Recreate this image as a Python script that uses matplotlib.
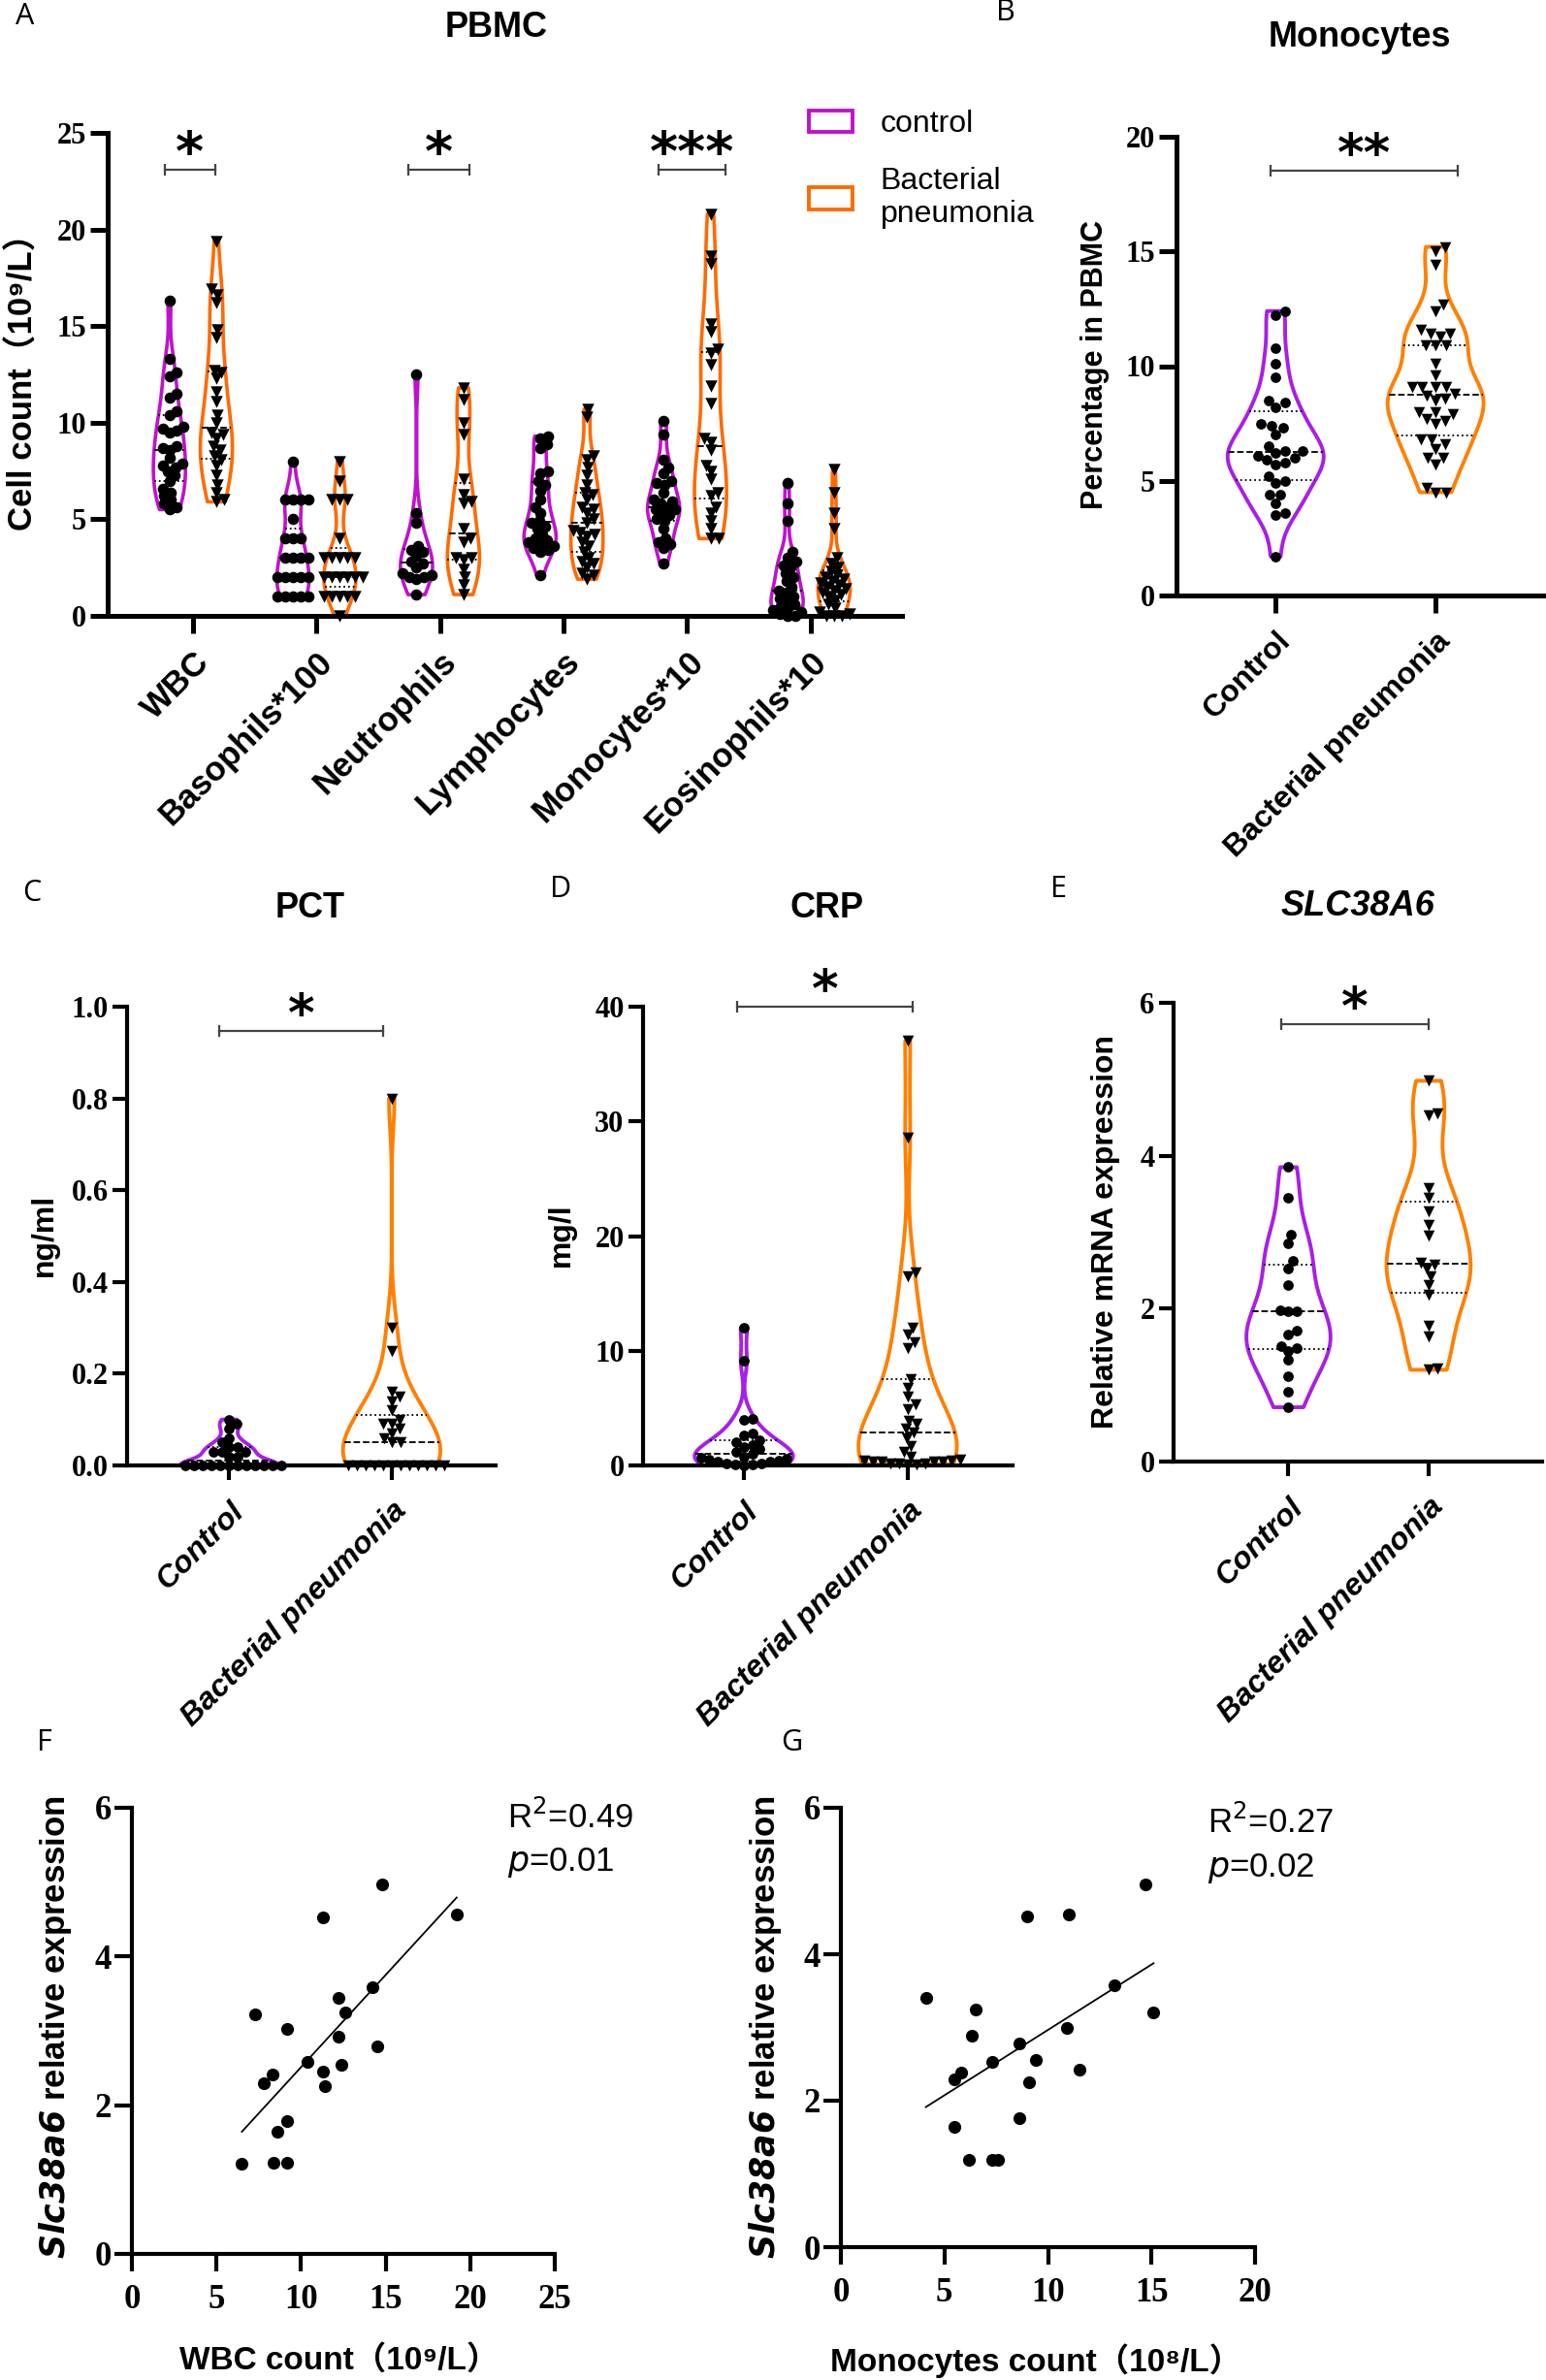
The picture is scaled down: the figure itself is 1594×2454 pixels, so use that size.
import numpy as np
import matplotlib
matplotlib.use("Agg")
from matplotlib import pyplot as plt
from matplotlib import mlab
from matplotlib.patches import Patch

# ---------------- data ----------------
cats_a = ["WBC", "Basophils*100", "Neutrophils", "Lymphocytes", "Monocytes*10", "Eosinophils*10"]
wbc_ctrl = [16.3, 13.3, 12.6, 12.4, 11.5, 11.3, 10.6, 10.4, 9.8, 9.7, 9.6, 9.5, 8.8, 8.7, 8.6,
            8.2, 7.9, 7.8, 7.7, 7.5, 7.3, 7.0, 6.6, 6.4, 6.2, 6.0, 5.8, 5.6, 5.5]
wbc_bp = [19.4, 16.9, 16.6, 16.2, 14.8, 14.4, 12.7, 12.6, 12.3, 11.6, 11.1, 10.4, 10.0, 9.5, 9.4,
          9.2, 8.8, 8.6, 8.3, 8.1, 7.8, 7.3, 6.8, 6.4, 6.0, 5.9]
baso_ctrl = [8, 6, 6, 6, 6, 5, 4, 4, 4, 3, 3, 3, 3, 2, 2, 2, 2, 2, 1, 1, 1, 1, 1]
baso_bp = [8, 7, 6, 6, 6, 4, 3, 3, 3, 3, 3, 2, 2, 2, 2, 2, 2, 1, 1, 1, 1, 1, 0]
neut_ctrl = [12.5, 5.3, 4.8, 3.6, 3.4, 3.3, 3.1, 2.8, 2.7, 2.5, 2.2, 2.1, 2.0, 2.0, 1.9, 1.1]
neut_bp = [11.8, 11.2, 10.0, 9.4, 7.1, 6.3, 5.9, 5.8, 4.5, 4.0, 3.8, 3.0, 3.0, 2.9, 2.4, 2.0, 1.6, 1.1]
lymph_ctrl = [9.3, 9.2, 8.9, 8.7, 7.5, 7.4, 7.0, 6.8, 6.5, 6.0, 5.6, 5.3, 4.9, 4.8, 4.6, 4.5, 4.2,
              4.0, 3.9, 3.8, 3.7, 3.6, 3.5, 3.4, 3.3, 2.1]
lymph_bp = [10.7, 10.3, 8.3, 8.1, 7.7, 7.3, 6.8, 6.4, 6.3, 6.0, 5.6, 5.5, 5.3, 5.0, 4.8, 4.4, 4.3,
            4.2, 4.1, 3.8, 3.6, 3.3, 3.0, 2.8, 2.7, 2.5, 2.2, 2.1, 1.9]
mono_ctrl = [10.1, 9.4, 8.1, 7.7, 7.4, 7.0, 6.9, 6.8, 6.4, 6.0, 5.9, 5.8, 5.6, 5.5, 5.5, 5.3, 5.2,
             5.0, 4.9, 4.5, 4.0, 3.8, 3.7, 3.5, 2.7]
mono_bp = [20.8, 18.6, 18.2, 15.1, 14.7, 13.8, 13.6, 13.0, 11.9, 11.0, 9.2, 9.0, 8.6, 7.8, 7.5,
           7.1, 6.4, 6.2, 5.6, 5.3, 4.9, 4.5, 4.0, 4.0]
eos_ctrl = [6.9, 5.8, 4.9, 3.3, 3.0, 2.8, 2.6, 2.5, 2.2, 2.0, 1.8, 1.5, 1.3, 1.2, 1.0, 0.9, 0.8,
            0.6, 0.5, 0.4, 0.3, 0.2, 0.1, 0.0, 0.0]
eos_bp = [7.6, 6.4, 5.3, 4.5, 3.0, 2.7, 2.5, 2.3, 2.1, 2.0, 1.9, 1.8, 1.7, 1.6, 1.5, 1.4, 1.3, 1.2,
          1.1, 1.0, 0.8, 0.6, 0.4, 0.2, 0.1, 0.0, 0.0, 0.0]

monopct_ctrl = [12.4, 12.2, 10.8, 10.1, 9.5, 8.5, 8.4, 8.2, 7.5, 7.4, 7.3, 7.0, 6.5, 6.3, 6.3,
                6.2, 6.1, 6.0, 5.9, 5.8, 5.7, 5.2, 5.0, 4.9, 4.4, 4.4, 4.0, 3.6, 3.5, 1.7]
monopct_bp = [15.2, 15.0, 14.4, 12.7, 12.4, 11.6, 11.4, 11.4, 11.3, 10.9, 10.9, 10.9, 10.1, 9.6,
              9.1, 9.1, 9.1, 9.1, 8.8, 8.7, 8.6, 8.5, 8.0, 8.0, 7.9, 7.7, 7.6, 7.5, 6.8, 6.8, 6.6,
              6.4, 6.0, 6.0, 5.7, 4.7, 4.5, 4.5]

pct_ctrl = [0.10, 0.09, 0.08, 0.06, 0.05, 0.04, 0.04, 0.03, 0.03, 0.03, 0.02, 0.02,
            0, 0, 0, 0, 0, 0, 0, 0, 0, 0, 0, 0]
pct_bp = [0.80, 0.30, 0.25, 0.16, 0.15, 0.14, 0.12, 0.10, 0.09, 0.09, 0.08, 0.07, 0.06, 0.05, 0.05,
          0, 0, 0, 0, 0, 0, 0, 0, 0, 0, 0, 0]

crp_ctrl = [12.0, 9.1, 4.1, 4.0, 2.8, 2.6, 2.2, 2.0, 1.8, 1.6, 1.4, 1.2, 1.0, 0.8, 0.7, 0.6, 0.5,
            0.4, 0.3, 0.3, 0.2, 0.2, 0.1, 0.1, 0.0]
crp_bp = [37.0, 28.6, 16.8, 16.5, 12.0, 11.4, 10.7, 10.2, 7.5, 6.8, 6.0, 5.3, 4.9, 3.9, 3.6, 3.2,
          2.9, 2.4, 1.7, 1.2, 0.8, 0.5, 0.4, 0.4, 0.3, 0.3, 0.3, 0.3, 0.2, 0.2, 0.2, 0.1, 0.1]

slc_ctrl = [3.85, 3.45, 2.97, 2.86, 2.63, 2.53, 2.31, 1.98, 1.96, 1.96, 1.71, 1.66, 1.51, 1.49,
            1.45, 1.33, 1.11, 0.91, 0.71]
slc_bp = [4.98, 4.55, 4.53, 3.58, 3.45, 3.27, 3.10, 2.96, 2.60, 2.58, 2.52, 2.42, 2.31, 2.18,
          1.78, 1.64, 1.22, 1.20]

wbc_x = [6.5, 8.4, 9.2, 8.6, 9.2, 7.3, 9.2, 7.8, 8.3, 10.4, 11.3, 11.4, 12.4, 12.2, 12.6, 12.2,
         14.2, 14.5, 14.8, 11.3, 19.2]
wbc_y = [1.21, 1.23, 1.23, 1.65, 1.79, 3.22, 3.02, 2.30, 2.41, 2.58, 2.45, 2.26, 2.55, 2.92,
         3.25, 3.44, 3.59, 2.79, 4.97, 4.53, 4.56]
monoc_x = [4.1, 5.5, 5.5, 5.8, 6.2, 6.3, 6.5, 7.3, 7.6, 7.3, 8.6, 8.6, 9.0, 9.1, 9.4, 10.9, 11.0,
           11.5, 13.2, 14.7, 15.1]
monoc_y = [3.41, 1.64, 2.29, 2.39, 1.19, 2.89, 3.24, 1.19, 1.19, 2.53, 2.78, 1.76, 4.51, 2.25,
           2.56, 3.00, 4.54, 2.43, 3.57, 4.95, 3.20]

groups = ["Control", "Bacterial pneumonia"]

# ---------------- helpers ----------------
plt.rcParams["font.serif"] = ["Liberation Serif", "DejaVu Serif"]

W, H = 1594, 2454
fig = plt.figure(figsize=(W / 100, H / 100), dpi=100)

PURPLE_A, ORANGE_A = "#C012CC", "#FF6A00"
PURPLE, ORANGE = "#A91EE8", "#FF8000"
SANS = "Liberation Sans"
CJK = [SANS, "DejaVu Sans", "Noto Sans CJK SC"]


def box(l, t, r, b):
    return fig.add_axes([l / W, 1 - b / H, (r - l) / W, (b - t) / H])


def ftext(x, y, s, **kw):
    return fig.text(x / W, 1 - y / H, s, **kw)


def style(ax, lw, tl):
    for s in ["top", "right"]:
        ax.spines[s].set_visible(False)
    for s in ["left", "bottom"]:
        ax.spines[s].set_linewidth(lw)
    ax.tick_params(width=lw, length=tl, direction="out")


def violin(ax, pos, vals, color, hw, bw=0.4, lw=2.8):
    vals = np.asarray(vals, float)
    kde = mlab.GaussianKDE(vals, bw)
    ys = np.linspace(vals.min(), vals.max(), 300)
    d = kde.evaluate(ys)
    d = d / d.max() * hw
    ax.fill_betweenx(ys, pos - d, pos + d, facecolor="none", edgecolor=color, lw=lw,
                     zorder=2, joinstyle="round")
    for q, ls in [(25, ":"), (50, "--"), (75, ":")]:
        qv = np.percentile(vals, q)
        w = np.interp(qv, ys, d)
        ax.plot([pos - w, pos + w], [qv, qv], color="black", ls=ls, lw=1.3, zorder=2)


def swarm(ax, pos, vals, marker, s, diam=10.5):
    bb = ax.get_position()
    x0, x1 = ax.get_xlim()
    y0, y1 = ax.get_ylim()
    ppx = bb.width * W / (x1 - x0)
    ppy = bb.height * H / (y1 - y0)
    vals = np.asarray(vals, float)
    xs = np.zeros(len(vals))
    placed = []
    for i in np.argsort(vals):
        y = vals[i] * ppy
        near = [(px, py) for px, py in placed if abs(py - y) < diam]
        cands = [0.0]
        for px, py in near:
            dx = np.sqrt(diam ** 2 - (py - y) ** 2)
            cands += [px + dx, px - dx]
        cands.sort(key=abs)
        for c in cands:
            if all((c - px) ** 2 + (y - py) ** 2 >= diam ** 2 - 1e-6 for px, py in near):
                break
        placed.append((c, y))
        xs[i] = c
    ax.scatter(pos + xs / ppx, vals, marker=marker, s=s, color="black", linewidths=0,
               zorder=3, clip_on=False)


def sig(ax, x1, x2, y, stars, size=38):
    ax.plot([x1, x2], [y, y], color="#444444", lw=1.6, marker="|", markersize=9, mew=1.6,
            clip_on=False, zorder=4)
    ax.annotate(stars, ((x1 + x2) / 2, y), xytext=(0, 0), textcoords="offset points",
                ha="center", va="baseline", fontsize=size, fontweight="bold",
                family="DejaVu Sans", annotation_clip=False)


def yticks(ax, ticks, fmt, size):
    ax.set_yticks(ticks, labels=[fmt.format(t) for t in ticks], fontfamily="serif",
                  fontweight="bold", fontsize=size)


# ---------------- panel A ----------------
axA = box(111, 137, 930, 635)
axA.set_xlim(-0.69, 5.74)
axA.set_ylim(0, 25)
style(axA, 3.6, 13)
axA.tick_params(axis="y", pad=3)
axA.tick_params(axis="x", pad=9)
yticks(axA, [0, 5, 10, 15, 20, 25], "{:d}", 22)
axA.set_xticks(range(6), labels=cats_a, rotation=45, ha="right", rotation_mode="anchor",
               fontfamily=SANS, fontweight="bold", fontsize=25)
pairs_a = [(wbc_ctrl, wbc_bp), (baso_ctrl, baso_bp), (neut_ctrl, neut_bp),
           (lymph_ctrl, lymph_bp), (mono_ctrl, mono_bp), (eos_ctrl, eos_bp)]
for i, (c, b) in enumerate(pairs_a):
    violin(axA, i - 0.19, c, PURPLE_A, 0.13, lw=2.6)
    violin(axA, i + 0.19, b, ORANGE_A, 0.13, lw=2.6)
    swarm(axA, i - 0.19, c, "o", 70, diam=8)
    swarm(axA, i + 0.19, b, "v", 80, diam=8)
sig(axA, -0.23, 0.18, 23.1, "*", 40)
sig(axA, 1.74, 2.24, 23.1, "*", 40)
sig(axA, 3.77, 4.31, 23.1, "***", 40)
fig.legend(handles=[Patch(facecolor="none", edgecolor=PURPLE_A, lw=2.8),
                    Patch(facecolor="none", edgecolor=ORANGE_A, lw=2.8)],
           labels=["control", "Bacterial\npneumonia"], loc="upper left",
           bbox_to_anchor=(834 / W, 1 - 113 / H), frameon=False,
           prop={"family": SANS, "size": 23}, handlelength=1.4, handleheight=0.7,
           handletextpad=0.9, labelspacing=0.9, borderpad=0, borderaxespad=0)
ftext(26, 17, "A", fontsize=22, family="Open Sans", ha="center", va="center")
ftext(512, 28, "PBMC", fontsize=26, fontweight="bold", family=SANS, ha="center", va="center")
ftext(24, 385, "Cell count（10⁹/L）", rotation=90, fontsize=25, fontweight="bold",
      family=CJK, ha="center", va="center")

# ---------------- panel B ----------------
axB = box(1213, 141, 1594, 614)
axB.set_xlim(-0.62, 1.69)
axB.set_ylim(0, 20)
style(axB, 3.6, 13)
axB.tick_params(axis="y", pad=3)
axB.tick_params(axis="x", pad=10)
yticks(axB, [0, 5, 10, 15, 20], "{:d}", 22)
axB.set_xticks([0, 1], labels=groups, rotation=45, ha="right", rotation_mode="anchor",
               fontfamily=SANS, fontweight="bold", fontsize=23)
violin(axB, 0, monopct_ctrl, PURPLE, 0.30, bw=0.35)
violin(axB, 1, monopct_bp, ORANGE, 0.30, bw=0.35)
swarm(axB, 0, monopct_ctrl, "o", 60)
swarm(axB, 1, monopct_bp, "v", 70)
sig(axB, -0.03, 1.14, 18.5, "**", 38)
ftext(1037, 13, "B", fontsize=22, family="Open Sans", ha="center", va="center")
ftext(1402, 39, "Monocytes", fontsize=26, fontweight="bold", family=SANS, ha="center",
      va="center")
ftext(1129, 376, "Percentage in PBMC", rotation=90, fontsize=22, fontweight="bold",
      family=SANS, ha="center", va="center")


# ---------------- panels C, D, E ----------------
def group_panel(box_px, xlim, ylim, ticks, fmt, c, b, bracket, ylab, title, letter, bw=0.4):
    ax = box(*box_px)
    ax.set_xlim(*xlim)
    ax.set_ylim(*ylim)
    style(ax, 3.0, 11)
    ax.tick_params(axis="y", pad=3)
    ax.tick_params(axis="x", pad=12)
    yticks(ax, ticks, fmt, 22)
    ax.set_xticks([0, 1], labels=groups, rotation=45, ha="right", rotation_mode="anchor",
                  fontfamily=SANS, fontweight="bold", fontstyle="italic", fontsize=23)
    violin(ax, 0, c, PURPLE, 0.30, bw=bw)
    violin(ax, 1, b, ORANGE, 0.30, bw=bw)
    swarm(ax, 0, c, "o", 60, diam=9)
    swarm(ax, 1, b, "v", 70, diam=9)
    sig(ax, *bracket, "*", 38)
    lx, ly, lt = ylab
    ftext(lx, ly, lt, rotation=90, fontsize=23, fontweight="bold", family=SANS, ha="center",
          va="center")
    tx, ty, tt, tstyle = title
    ftext(tx, ty, tt, fontsize=26, fontweight="bold", fontstyle=tstyle, family=SANS,
          ha="center", va="center")
    ftext(letter[0], letter[1], letter[2], fontsize=22, family="Open Sans", ha="center",
          va="center")
    return ax


group_panel((131, 1038, 511, 1511), (-0.63, 1.64), (0, 1.0), [0, 0.2, 0.4, 0.6, 0.8, 1.0],
            "{:.1f}", pct_ctrl, pct_bp, (-0.06, 0.95, 0.948), (46, 1273, "ng/ml"),
            (320, 936, "PCT", "normal"), (33, 921, "C"))
group_panel((663, 1038, 1044, 1511), (-0.615, 1.64), (0, 40), [0, 10, 20, 30, 40],
            "{:d}", crp_ctrl, crp_bp, (-0.04, 1.03, 40), (579, 1273, "mg/l"),
            (852, 936, "CRP", "normal"), (578, 917, "D"))
group_panel((1210, 1034, 1590, 1507), (-0.82, 1.81), (0, 6), [0, 2, 4, 6],
            "{:d}", slc_ctrl, slc_bp, (-0.05, 1.0, 5.72), (1140, 1270, "Relative mRNA expression"),
            (1400, 934, "SLC38A6", "italic"), (1092, 917, "E"))


# ---------------- panels F, G ----------------
def corr_panel(box_px, xmax, xs, ys, r2, p, r2_xy, xlab, ylab_x, letter):
    ax = box(*box_px)
    ax.set_xlim(0, xmax)
    ax.set_ylim(0, 6)
    style(ax, 3.0, 13)
    ax.tick_params(axis="y", pad=2)
    ax.tick_params(axis="x", pad=9)
    xt = list(range(0, xmax + 1, 5))
    ax.set_xticks(xt, labels=[str(t) for t in xt], fontfamily="serif", fontweight="bold",
                  fontsize=25)
    yticks(ax, [0, 2, 4, 6], "{:d}", 25)
    ax.scatter(xs, ys, s=90, color="black", linewidths=0, zorder=3)
    k, b0 = np.polyfit(xs, ys, 1)
    xx = np.array([min(xs), max(xs)])
    ax.plot(xx, k * xx + b0, color="black", lw=1.3)
    ftext(r2_xy[0], r2_xy[1], r2, fontsize=25, family=SANS, ha="left", va="center")
    ftext(r2_xy[0], r2_xy[1] + 47, p, fontsize=25, family=SANS, ha="left", va="center")
    ftext(xlab[0], xlab[1], xlab[2], fontsize=24, fontweight="bold", family=CJK,
          ha="center", va="center")
    ftext(ylab_x, 2090, r"$\mathbfit{Slc38a6}$ relative expression", rotation=90,
          fontsize=25, fontweight="bold", family=SANS, ha="center", va="center")
    ftext(letter[0], letter[1], letter[2], fontsize=22, family="Open Sans", ha="center",
          va="center")
    return ax


corr_panel((136, 1864, 572, 2324), 25, wbc_x, wbc_y, r"R$^{2}$=0.49", r"$\it{p}$=0.01",
           (523, 1874), (350, 2434, "WBC count（10⁹/L）"), 57, (46, 1797, "F"))
corr_panel((867, 1864, 1294, 2317), 20, monoc_x, monoc_y, r"R$^{2}$=0.27", r"$\it{p}$=0.02",
           (1245, 1879), (1068, 2434, "Monocytes count（10⁸/L）"), 789, (816, 1797, "G"))

fig.savefig("out.png", dpi=100)
